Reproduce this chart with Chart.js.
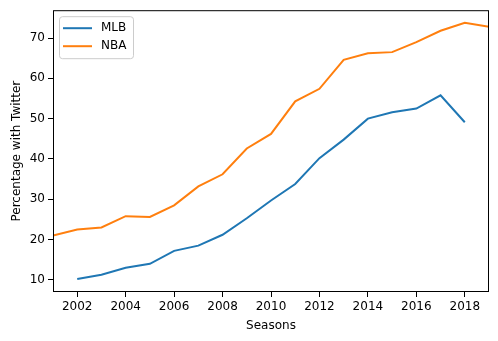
<!DOCTYPE html>
<html lang="en">
<head>
    <meta charset="UTF-8">
    <title>Twitter by league</title>
    <script src="https://cdn.jsdelivr.net/npm/chart.js"></script>
    <style>
        body { margin: 0; background: #fff; }
        #wrap { width: 498px; height: 341px; position: relative; }
    </style>
</head>
<body>
    <div id="wrap"><canvas id="chart"></canvas></div>
    <script>
        // data
        const nbaSeasons = [2001, 2002, 2003, 2004, 2005, 2006, 2007, 2008, 2009, 2010, 2011, 2012, 2013, 2014, 2015, 2016, 2017, 2018, 2019];
        const nbaValues = [21.0, 22.5, 23.0, 25.8, 25.6, 28.5, 33.2, 36.2, 42.6, 46.2, 54.3, 57.4, 64.6, 66.2, 66.5, 69.0, 71.8, 73.8, 72.8];
        const mlbSeasons = [2002, 2003, 2004, 2005, 2006, 2007, 2008, 2009, 2010, 2011, 2012, 2013, 2014, 2015, 2016, 2017, 2018];
        const mlbValues = [10.2, 11.3, 13.0, 14.0, 17.2, 18.5, 21.2, 25.3, 29.7, 33.8, 40.2, 44.8, 50.0, 51.6, 52.5, 55.8, 49.1];
        const xTicks = [2002, 2004, 2006, 2008, 2010, 2012, 2014, 2016, 2018];
        const yTicks = [10, 20, 30, 40, 50, 60, 70];

        const font = { family: 'DejaVu Sans', size: 12 };

        // frame round the plot area, like matplotlib's spines
        const frame = {
            id: 'frame',
            afterDraw(chart) {
                const a = chart.chartArea, ctx = chart.ctx;
                ctx.save();
                ctx.strokeStyle = '#000';
                ctx.lineWidth = 1;
                ctx.strokeRect(a.left + 0.5, a.top + 0.5, a.right - a.left - 1, a.bottom - a.top - 1);
                ctx.restore();
            }
        };

        // legend box inside upper left corner
        const innerLegend = {
            id: 'innerLegend',
            afterDatasetsDraw(chart) {
                const a = chart.chartArea, ctx = chart.ctx;
                const x = a.left + 6, y = a.top + 6, w = 74, h = 42;
                ctx.save();
                ctx.fillStyle = 'rgba(255,255,255,0.8)';
                ctx.strokeStyle = '#cccccc';
                ctx.lineWidth = 1;
                ctx.beginPath();
                ctx.roundRect(x + 0.5, y + 0.5, w, h, 3);
                ctx.fill();
                ctx.stroke();
                ctx.font = '12px "DejaVu Sans"';
                ctx.textBaseline = 'middle';
                chart.data.datasets.forEach((ds, i) => {
                    const ly = y + 12 + i * 18;
                    ctx.strokeStyle = ds.borderColor;
                    ctx.lineWidth = 2;
                    ctx.beginPath();
                    ctx.moveTo(x + 4, ly);
                    ctx.lineTo(x + 33, ly);
                    ctx.stroke();
                    ctx.fillStyle = '#000';
                    ctx.fillText(ds.label, x + 42, ly);
                });
                ctx.restore();
            }
        };

        new Chart(document.getElementById('chart'), {
            type: 'line',
            data: {
                datasets: [{
                    label: 'MLB',
                    data: mlbSeasons.map((s, i) => ({ x: s, y: mlbValues[i] })),
                    borderColor: '#1f77b4',
                    borderWidth: 2,
                    pointRadius: 0,
                    tension: 0
                }, {
                    label: 'NBA',
                    data: nbaSeasons.map((s, i) => ({ x: s, y: nbaValues[i] })),
                    borderColor: '#ff7f0e',
                    borderWidth: 2,
                    pointRadius: 0,
                    tension: 0
                }]
            },
            options: {
                responsive: true,
                maintainAspectRatio: false,
                animation: false,
                layout: { padding: { top: 9, right: 9, left: 0, bottom: 0 } },
                plugins: { legend: { display: false }, tooltip: { enabled: false } },
                scales: {
                    x: {
                        type: 'linear',
                        min: 2001,
                        max: 2019,
                        afterBuildTicks: axis => { axis.ticks = xTicks.map(v => ({ value: v })); },
                        afterFit: axis => { axis.height = 49; },
                        ticks: { color: '#000', font: font, padding: 3, maxRotation: 0, callback: v => String(v) },
                        grid: { drawOnChartArea: false, tickLength: 5, color: '#000', tickColor: '#000' },
                        border: { display: false },
                        title: { display: true, text: 'Seasons', color: '#000', font: font, padding: { top: 2, bottom: 8 } }
                    },
                    y: {
                        min: 7.0,
                        max: 76.9,
                        afterBuildTicks: axis => { axis.ticks = yTicks.map(v => ({ value: v })); },
                        afterFit: axis => { axis.width = 53; },
                        ticks: { color: '#000', font: font, padding: 3 },
                        grid: { drawOnChartArea: false, tickLength: 5, color: '#000', tickColor: '#000' },
                        border: { display: false },
                        title: { display: true, text: 'Percentage with Twitter', color: '#000', font: font, padding: { top: 10, bottom: 2 } }
                    }
                }
            },
            plugins: [frame, innerLegend]
        });
    </script>
</body>
</html>
